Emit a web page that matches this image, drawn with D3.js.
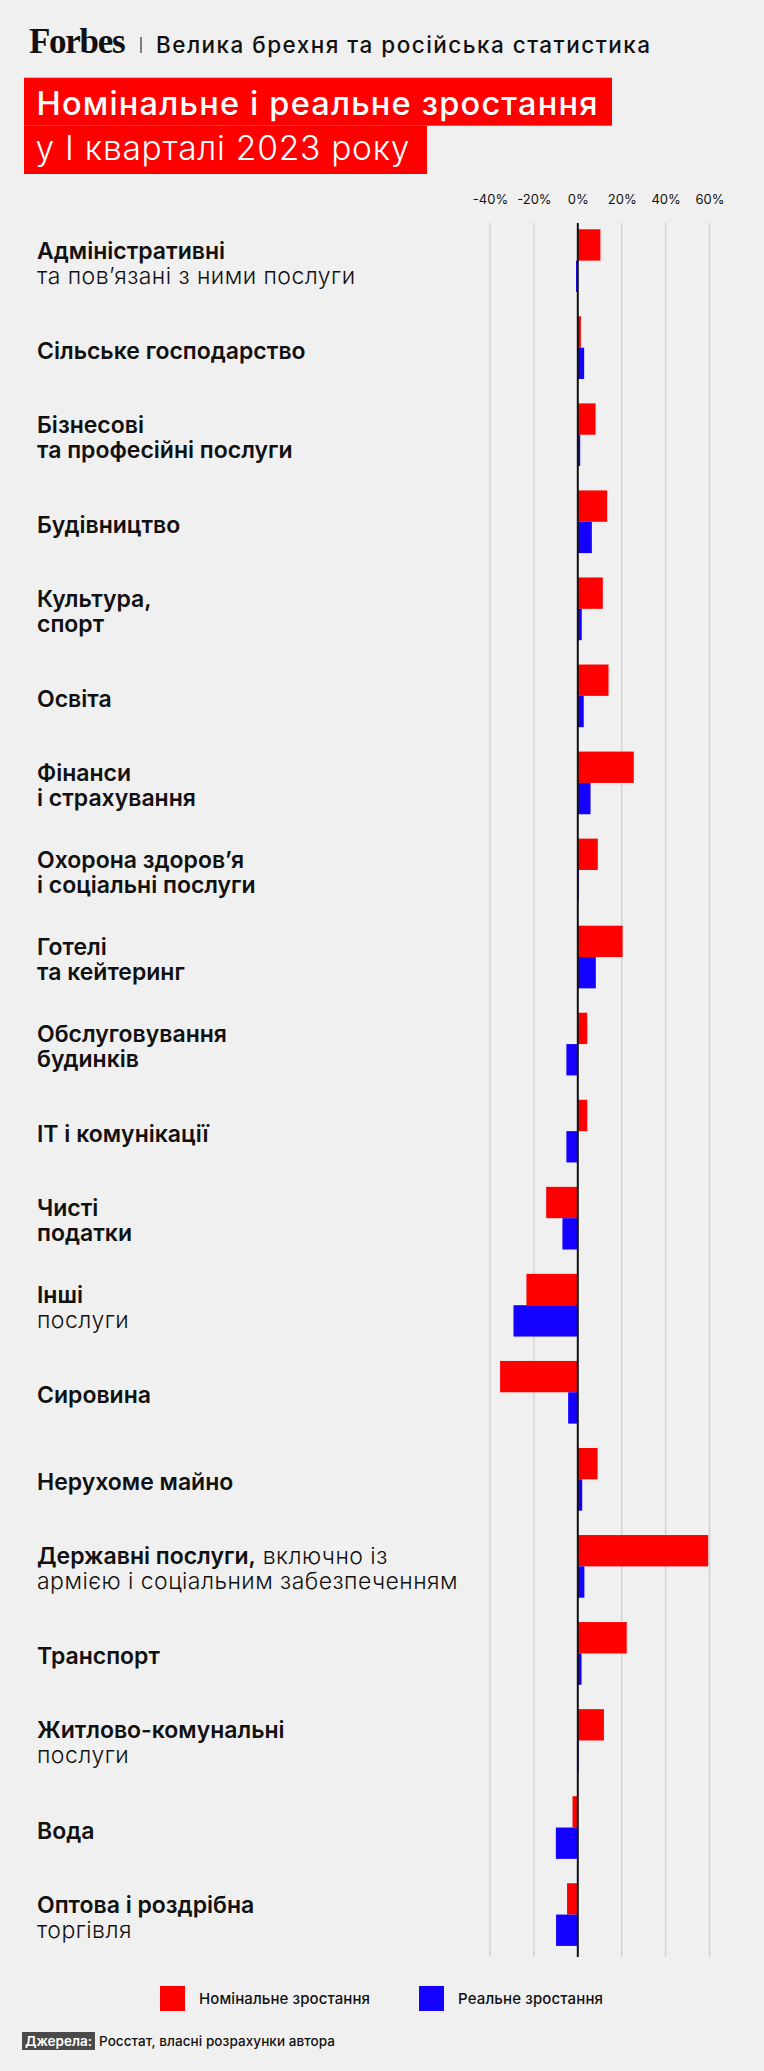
<!DOCTYPE html>
<html><head><meta charset="utf-8">
<script src="https://cdn.jsdelivr.net/npm/d3@7"></script>
<style>
html,body{margin:0;padding:0;background:#f0f0f0;}
svg{display:block;font-family:Inter,"Noto Sans",sans-serif;}
</style></head><body>
<svg id="c" width="764" height="2071"></svg>
<script>
const categories = [
  "Адміністративні та пов’язані з ними послуги","Сільське господарство","Бізнесові та професійні послуги",
  "Будівництво","Культура, спорт","Освіта","Фінанси і страхування","Охорона здоров’я і соціальні послуги",
  "Готелі та кейтеринг","Обслуговування будинків","IT і комунікації","Чисті податки","Інші послуги",
  "Сировина","Нерухоме майно","Державні послуги, включно із армією і соціальним забезпеченням",
  "Транспорт","Житлово-комунальні послуги","Вода","Оптова і роздрібна торгівля"
];
// **text** marks the bold part of each line
const labelLines = [
  ["**Адміністративні**","та пов’язані з ними послуги"],
  ["**Сільське господарство**"],
  ["**Бізнесові**","**та професійні послуги**"],
  ["**Будівництво**"],
  ["**Культура,**","**спорт**"],
  ["**Освіта**"],
  ["**Фінанси**","**і страхування**"],
  ["**Охорона здоров’я**","**і соціальні послуги**"],
  ["**Готелі**","**та кейтеринг**"],
  ["**Обслуговування**","**будинків**"],
  ["**IT і комунікації**"],
  ["**Чисті**","**податки**"],
  ["**Інші**","послуги"],
  ["**Сировина**"],
  ["**Нерухоме майно**"],
  ["**Державні послуги,** включно із","армією і соціальним забезпеченням"],
  ["**Транспорт**"],
  ["**Житлово-комунальні**","послуги"],
  ["**Вода**"],
  ["**Оптова і роздрібна**","торгівля"]
];
const nominal = [10.3, 1.4, 8.1, 13.4, 11.4, 14.0, 25.5, 9.1, 20.4, 4.3, 4.3, -14.4, -23.4, -35.4, 9.0, 59.4, 22.3, 11.9, -2.4, -4.9];
const real    = [-0.8, 2.9, 1.1, 6.4, 1.8, 2.7, 5.8, 0.5, 8.2, -5.2, -5.2, -7.0, -29.3, -4.4, 2.0, 3.0, 1.7, 0.4, -10.0, -9.9];
const tickValues = [-40, -20, 0, 20, 40, 60];
const seriesKeys = ["nominal", "real"];
const seriesNames = ["Номінальне зростання", "Реальне зростання"];
const seriesColors = ["#ff0000", "#1400ff"];

const svg = d3.select("#c");
const ink = "#111";

// Header
svg.append("text").attr("x", 29).attr("y", 53).attr("font-family", "'Liberation Serif', 'DejaVu Serif', serif")
  .attr("font-weight", 700).attr("font-size", 35).attr("letter-spacing", -1.3).attr("fill", ink).text("Forbes");
svg.append("line").attr("x1", 141).attr("x2", 141).attr("y1", 37).attr("y2", 53).attr("stroke", "#333").attr("stroke-width", 1.2);
svg.append("text").attr("x", 156).attr("y", 53).attr("font-weight", 500).attr("font-size", 22.5).attr("fill", ink)
  .attr("textLength", 494).text("Велика брехня та російська статистика");

svg.append("rect").attr("x", 24).attr("y", 77.7).attr("width", 588).attr("height", 48).attr("fill", "#ff0000");
svg.append("rect").attr("x", 24).attr("y", 125.7).attr("width", 403).attr("height", 48.3).attr("fill", "#ff0000");
svg.append("text").attr("x", 36.5).attr("y", 115).attr("font-weight", 500).attr("font-size", 32.5).attr("fill", "#fff")
  .attr("textLength", 561).text("Номінальне і реальне зростання");
svg.append("text").attr("x", 35.5).attr("y", 159.5).attr("font-weight", 300).attr("font-size", 33.5).attr("fill", "#fff")
  .attr("textLength", 374).text("у І кварталі 2023 року");

// Scales
const x = d3.scaleLinear().domain([-40, 60]).range([490, 709.5]);
const y = d3.scaleBand().domain(categories).range([217.1, 1958.1]).paddingInner(0.28).paddingOuter(0.14);
const ys = d3.scaleBand().domain(seriesKeys).range([0, y.bandwidth()]);
const gridTop = 223, gridBottom = 1957;

// Axis labels
const axis = d3.axisTop(x).tickValues(tickValues).tickFormat(d => d + "%").tickSize(0).tickPadding(0);
const ga = svg.append("g").attr("transform", "translate(0,204)").call(axis);
ga.select(".domain").remove();
ga.selectAll("text").attr("font-family", "Inter").attr("font-size", 13).attr("fill", ink).attr("font-weight", 400);

// Gridlines
svg.append("g").selectAll("line").data(tickValues.filter(d => d !== 0)).join("line")
  .attr("x1", d => x(d)).attr("x2", d => x(d)).attr("y1", gridTop).attr("y2", gridBottom)
  .attr("stroke", "#d3d3d3").attr("stroke-width", 1.5);

// Bars
const rows = categories.map((c, i) => ({ c, nominal: nominal[i], real: real[i] }));
const gb = svg.append("g");
seriesKeys.forEach((k, si) => {
  gb.selectAll("rect." + k).data(rows).join("rect").attr("class", k)
    .attr("x", d => Math.min(x(0), x(d[k])))
    .attr("width", d => Math.abs(x(d[k]) - x(0)))
    .attr("y", d => y(d.c) + ys(k))
    .attr("height", ys.bandwidth())
    .attr("fill", seriesColors[si]);
});

// Zero line
svg.append("line").attr("x1", x(0)).attr("x2", x(0)).attr("y1", gridTop).attr("y2", gridBottom)
  .attr("stroke", ink).attr("stroke-width", 2);

// Category labels
const gl = svg.append("g").attr("fill", ink).attr("font-size", 23);
categories.forEach((c, i) => {
  const lines = labelLines[i];
  const center = y(c) + y.bandwidth() / 2;
  const base = lines.length === 1 ? [center + 11] : [center - 2, center + 23];
  lines.forEach((ln, li) => {
    const t = gl.append("text").attr("x", 37).attr("y", base[li]);
    ln.split(/(\*\*[^*]+\*\*)/).filter(s => s.length).forEach(seg => {
      const bold = seg.startsWith("**");
      t.append("tspan").attr("font-weight", bold ? 600 : 300)
        .attr("letter-spacing", bold ? 0 : 0.45)
        .text(bold ? seg.slice(2, -2) : seg);
    });
  });
});

// Legend
const lg = svg.append("g");
const legendX = [160, 419];
const legendW = [171, 145];
seriesNames.forEach((n, i) => {
  lg.append("rect").attr("x", legendX[i]).attr("y", 1986).attr("width", 25).attr("height", 25).attr("fill", seriesColors[i]);
  lg.append("text").attr("x", legendX[i] + 39).attr("y", 2004).attr("font-size", 15).attr("font-weight", 500)
    .attr("fill", ink).attr("textLength", legendW[i]).text(n);
});

// Source
svg.append("rect").attr("x", 22).attr("y", 2032).attr("width", 73).attr("height", 18).attr("fill", "#4a4a4a");
svg.append("text").attr("x", 25).attr("y", 2045.5).attr("font-size", 13.5).attr("font-weight", 600).attr("fill", "#fff")
  .attr("textLength", 67).text("Джерела:");
svg.append("text").attr("x", 99).attr("y", 2045.5).attr("font-size", 13.5).attr("font-weight", 500).attr("fill", ink)
  .attr("textLength", 236).text("Росстат, власні розрахунки автора");
</script>
</body></html>
